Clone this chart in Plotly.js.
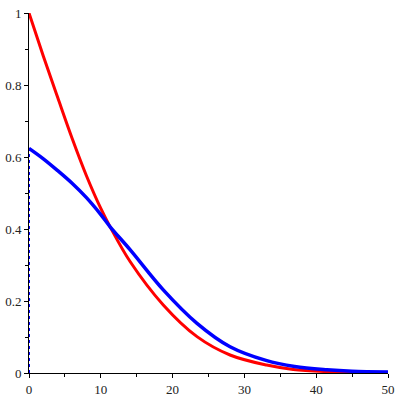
<!DOCTYPE html>
<html>
<head>
<meta charset="utf-8">
<script src="https://cdn.plot.ly/plotly-3.0.1.min.js"></script>
<style>
  html, body { margin: 0; padding: 0; background: #fff; }
  #chart { width: 400px; height: 400px; }
</style>
</head>
<body>
<div id="chart"></div>
<script>
// values
var redX = [0, 2, 4, 6, 8, 10, 11.3, 14.1, 18.7, 23.4, 28.0, 33.1, 36.8, 41.5, 45, 50];
var redY = [1, 0.880, 0.765, 0.652, 0.548, 0.457, 0.406, 0.309, 0.189, 0.101, 0.05, 0.022, 0.010, 0.004, 0.002, 0.001];

var blueX = [0, 2, 4, 6, 8, 10, 11.3, 14.1, 18.7, 23.4, 28.0, 33.0, 37.0, 41.5, 45, 50];
var blueY = [0.624, 0.595, 0.562, 0.527, 0.487, 0.440, 0.406, 0.342, 0.231, 0.138, 0.073, 0.035, 0.018, 0.009, 0.005, 0.003];

// blue drops straight to zero along the left edge
var blueEdgeX = [0, 0];
var blueEdgeY = [0, 0.624];

var xTicks = [0, 10, 20, 30, 40, 50];
var yTicks = [0, 0.2, 0.4, 0.6, 0.8, 1];
var yTickText = ['0', '0.2', '0.4', '0.6', '0.8', '1'];

var red = {
  x: redX, y: redY,
  type: 'scatter', mode: 'lines',
  line: { color: '#ff0000', width: 3, shape: 'spline', smoothing: 1 },
  hoverinfo: 'skip'
};
var blue = {
  x: blueX, y: blueY,
  type: 'scatter', mode: 'lines',
  line: { color: '#0000ff', width: 3.5, shape: 'spline', smoothing: 1 },
  hoverinfo: 'skip'
};
var blueEdge = {
  x: blueEdgeX, y: blueEdgeY,
  type: 'scatter', mode: 'lines',
  line: { color: '#0000ff', width: 2, dash: 'dot' },
  hoverinfo: 'skip'
};

var layout = {
  width: 400,
  height: 400,
  margin: { l: 29, r: 12, t: 13, b: 27 },
  paper_bgcolor: '#fff',
  plot_bgcolor: '#fff',
  showlegend: false,
  font: { family: "'Liberation Serif', 'DejaVu Serif', serif", size: 13, color: '#222' },
  xaxis: {
    range: [0, 50],
    tickvals: xTicks,
    showgrid: false,
    zeroline: false,
    showline: true,
    linecolor: '#000',
    linewidth: 1,
    ticks: 'outside',
    ticklen: 4,
    tickcolor: '#000',
    minor: { dtick: 5, ticks: 'outside', ticklen: 3, tickcolor: '#000', showgrid: false }
  },
  yaxis: {
    range: [0, 1],
    tickvals: yTicks,
    ticktext: yTickText,
    showgrid: false,
    zeroline: false,
    showline: true,
    linecolor: '#000',
    linewidth: 1,
    ticks: 'outside',
    ticklen: 4,
    tickcolor: '#000',
    minor: { dtick: 0.1, ticks: 'outside', ticklen: 3, tickcolor: '#000', showgrid: false }
  }
};

Plotly.newPlot('chart', [blueEdge, red, blue], layout, { staticPlot: true });
</script>
</body>
</html>
